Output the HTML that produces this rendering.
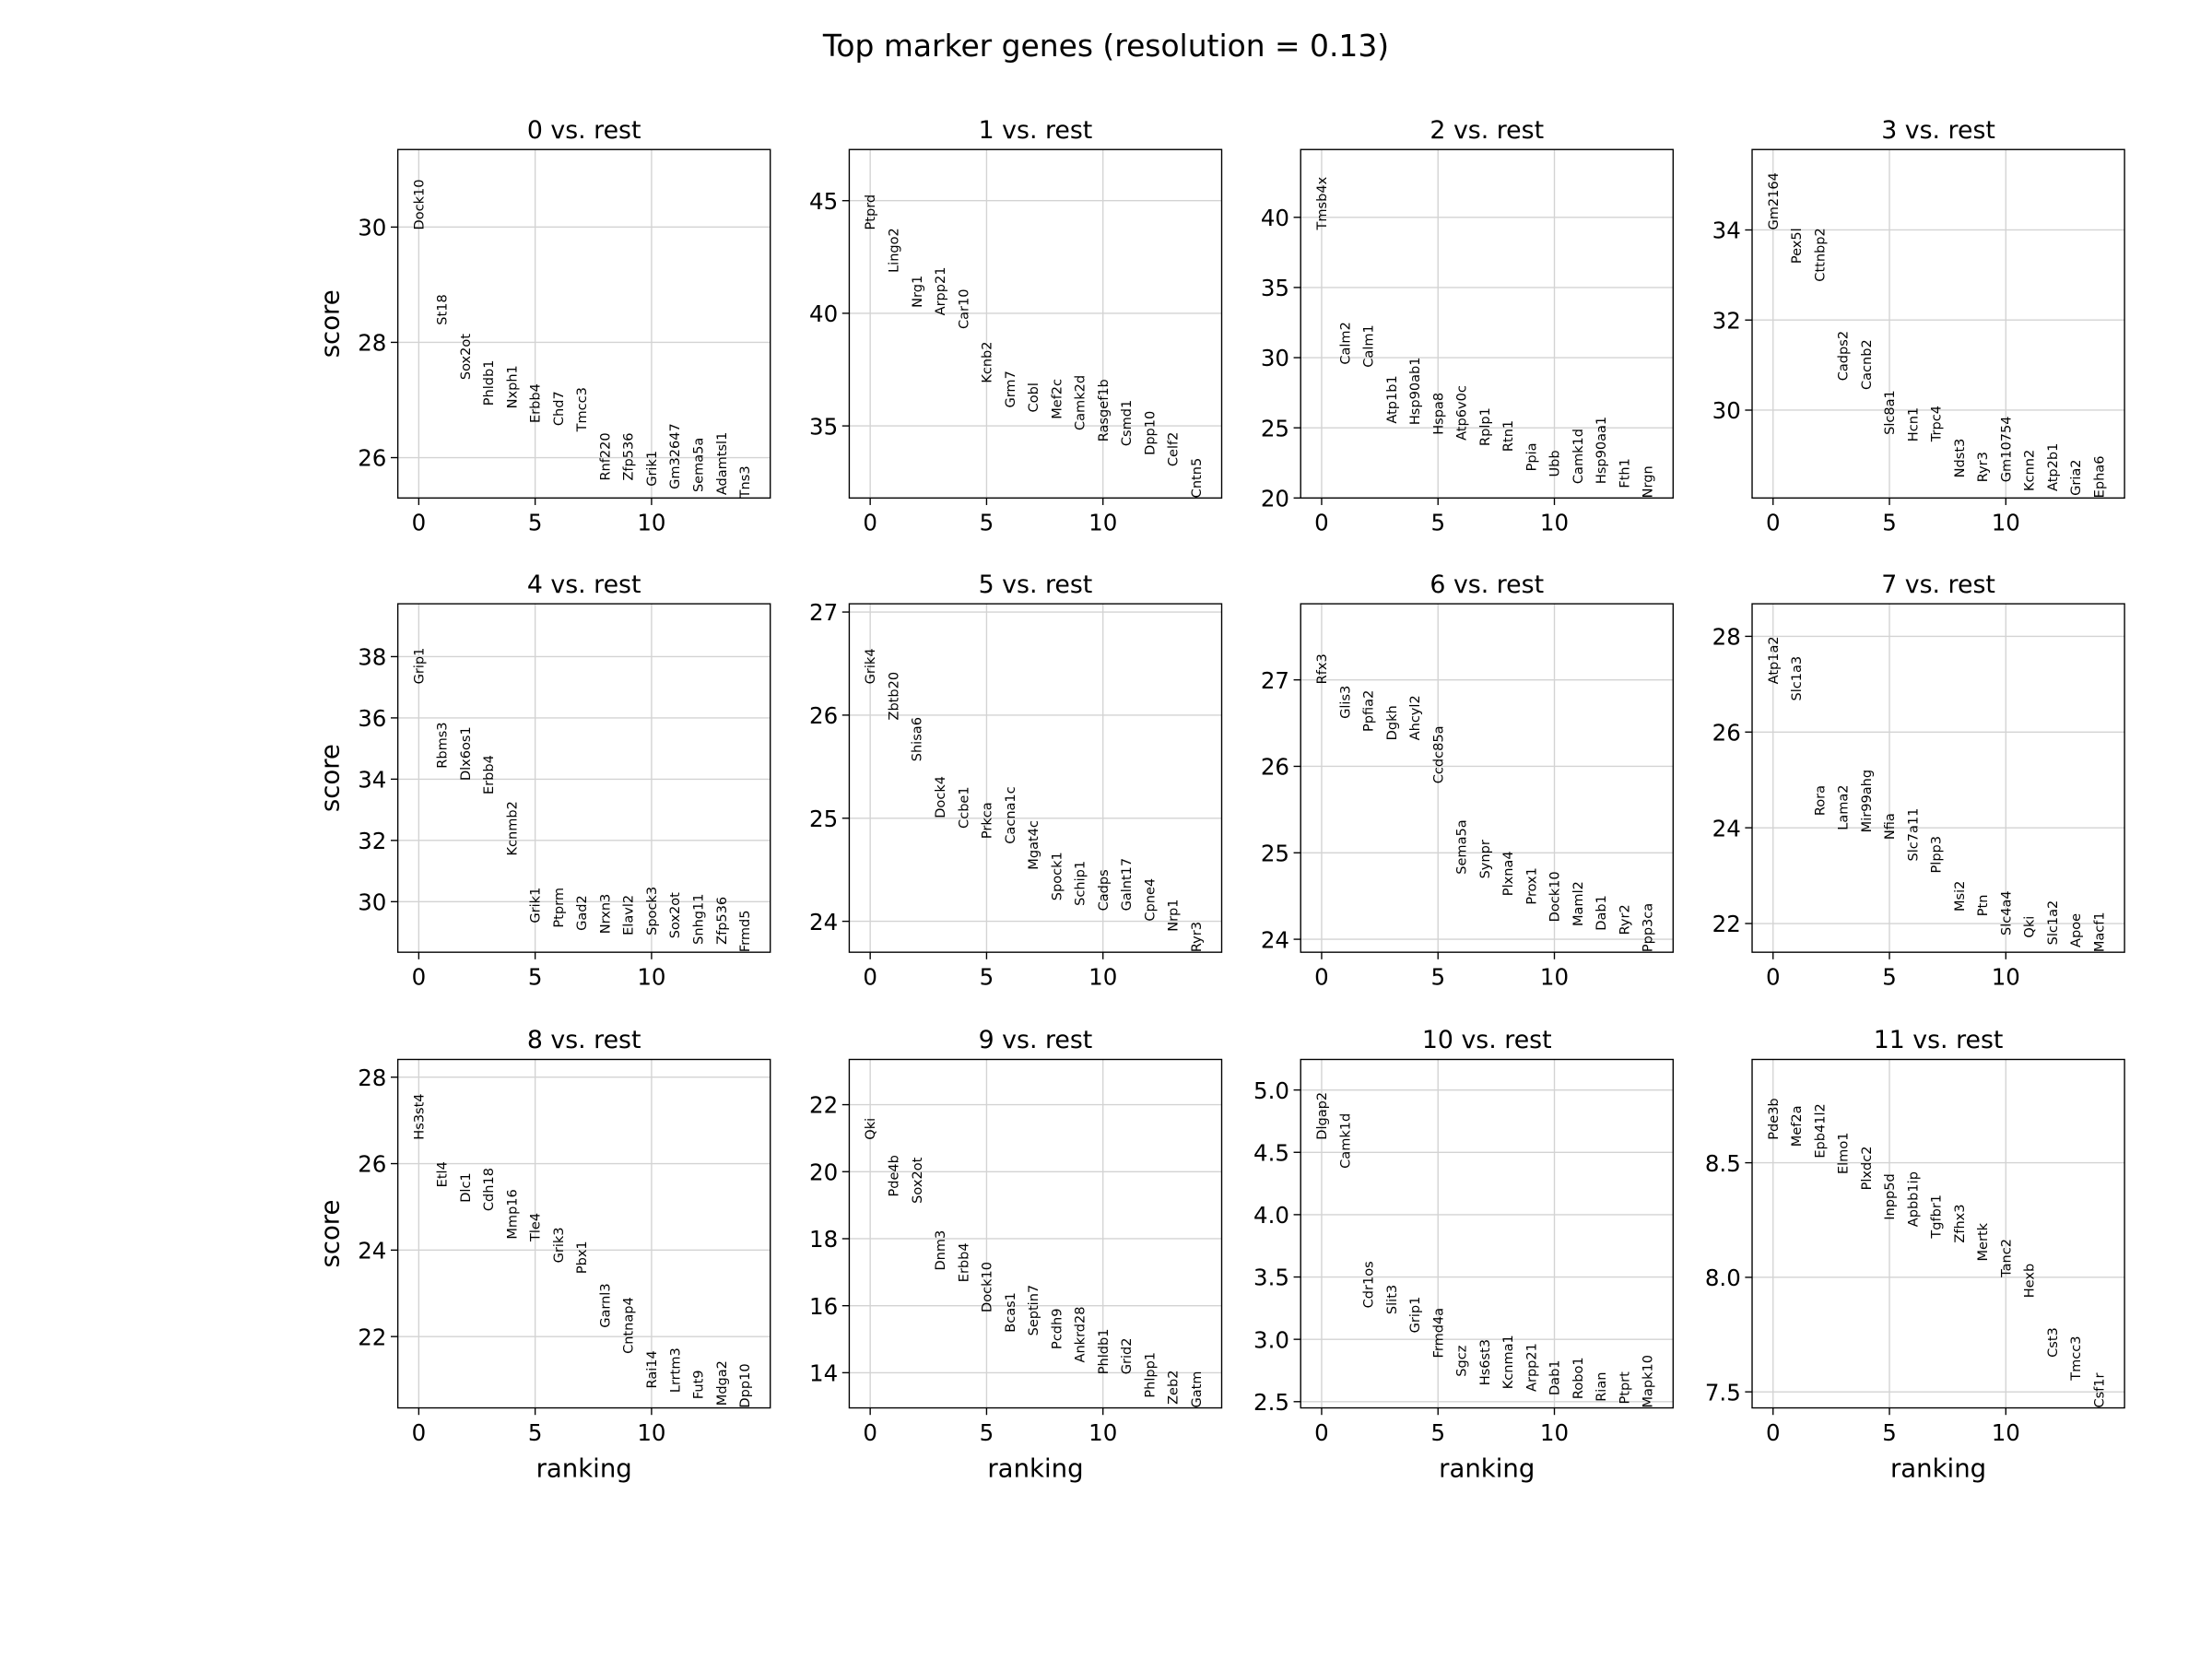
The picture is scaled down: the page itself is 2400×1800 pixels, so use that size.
<!DOCTYPE html>
<html><head><meta charset="utf-8"><style>
html,body{margin:0;padding:0;background:#fff}
svg{display:block}
text{font-family:"DejaVu Sans","Liberation Sans",sans-serif}
</style></head><body>
<svg id="fig" width="2400" height="1800" viewBox="0 0 1568 1176" xmlns="http://www.w3.org/2000/svg">
<text x="784" y="40" font-size="21.5" text-anchor="middle">Top marker genes (resolution = 0.13)</text>
</svg>
<script>
const groups = ["0","1","2","3","4","5","6","7","8","9","10","11"];
const genes0 = ["Dock10","St18","Sox2ot","Phldb1","Nxph1","Erbb4","Chd7","Tmcc3","Rnf220","Zfp536","Grik1","Gm32647","Sema5a","Adamtsl1","Tns3"];
const scores0 = [29.95,28.3,27.35,26.9,26.85,26.6,26.55,26.45,25.6,25.6,25.5,25.45,25.4,25.35,25.3];
const genes1 = ["Ptprd","Lingo2","Nrg1","Arpp21","Car10","Kcnb2","Grm7","Cobl","Mef2c","Camk2d","Rasgef1b","Csmd1","Dpp10","Celf2","Cntn5"];
const scores1 = [43.7,41.8,40.25,39.9,39.3,36.9,35.8,35.6,35.3,34.8,34.3,34.1,33.7,33.2,31.8];
const genes2 = ["Tmsb4x","Calm2","Calm1","Atp1b1","Hsp90ab1","Hspa8","Atp6v0c","Rplp1","Rtn1","Ppia","Ubb","Camk1d","Hsp90aa1","Fth1","Nrgn"];
const scores2 = [39.1,29.5,29.3,25.3,25.2,24.5,24.1,23.7,23.3,21.9,21.5,21.0,21.0,20.7,20.0];
const genes3 = ["Gm2164","Pex5l","Cttnbp2","Cadps2","Cacnb2","Slc8a1","Hcn1","Trpc4","Ndst3","Ryr3","Gm10754","Kcnn2","Atp2b1","Gria2","Epha6"];
const scores3 = [34.0,33.25,32.85,30.65,30.45,29.45,29.3,29.3,28.5,28.4,28.4,28.2,28.2,28.1,28.05];
const genes4 = ["Grip1","Rbms3","Dlx6os1","Erbb4","Kcnmb2","Grik1","Ptprm","Gad2","Nrxn3","Elavl2","Spock3","Sox2ot","Snhg11","Zfp536","Frmd5"];
const scores4 = [37.1,34.35,33.95,33.5,31.5,29.3,29.15,29.05,28.95,28.9,28.9,28.8,28.6,28.6,28.35];
const genes5 = ["Grik4","Zbtb20","Shisa6","Dock4","Ccbe1","Prkca","Cacna1c","Mgat4c","Spock1","Schip1","Cadps","Galnt17","Cpne4","Nrp1","Ryr3"];
const scores5 = [26.3,25.95,25.55,25.0,24.9,24.8,24.75,24.5,24.2,24.15,24.1,24.1,24.0,23.9,23.7];
const genes6 = ["Rfx3","Glis3","Ppfia2","Dgkh","Ahcyl2","Ccdc85a","Sema5a","Synpr","Plxna4","Prox1","Dock10","Maml2","Dab1","Ryr2","Ppp3ca"];
const scores6 = [26.95,26.55,26.4,26.3,26.3,25.8,24.75,24.7,24.5,24.4,24.2,24.15,24.1,24.05,23.85];
const genes7 = ["Atp1a2","Slc1a3","Rora","Lama2","Mir99ahg","Nfia","Slc7a11","Plpp3","Msi2","Ptn","Slc4a4","Qki","Slc1a2","Apoe","Macf1"];
const scores7 = [27.0,26.65,24.25,23.95,23.9,23.75,23.3,23.05,22.25,22.15,21.75,21.7,21.55,21.5,21.4];
const genes8 = ["Hs3st4","Etl4","Dlc1","Cdh18","Mmp16","Tle4","Grik3","Pbx1","Garnl3","Cntnap4","Rai14","Lrrtm3","Fut9","Mdga2","Dpp10"];
const scores8 = [26.55,25.45,25.1,24.9,24.25,24.2,23.7,23.45,22.2,21.6,20.8,20.7,20.55,20.4,20.35];
const genes9 = ["Qki","Pde4b","Sox2ot","Dnm3","Erbb4","Dock10","Bcas1","Septin7","Pcdh9","Ankrd28","Phldb1","Grid2","Phlpp1","Zeb2","Gatm"];
const scores9 = [20.95,19.25,19.05,17.05,16.7,15.8,15.2,15.1,14.7,14.3,13.95,13.95,13.25,13.05,12.95];
const genes10 = ["Dlgap2","Camk1d","Cdr1os","Slit3","Grip1","Frmd4a","Sgcz","Hs6st3","Kcnma1","Arpp21","Dab1","Robo1","Rian","Ptprt","Mapk10"];
const scores10 = [4.6,4.37,3.25,3.2,3.05,2.85,2.7,2.63,2.6,2.58,2.55,2.52,2.5,2.48,2.45];
const genes11 = ["Pde3b","Mef2a","Epb41l2","Elmo1","Plxdc2","Inpp5d","Apbb1ip","Tgfbr1","Zfhx3","Mertk","Tanc2","Hexb","Cst3","Tmcc3","Csf1r"];
const scores11 = [8.6,8.57,8.52,8.45,8.38,8.25,8.22,8.17,8.15,8.07,8.0,7.91,7.65,7.55,7.43];
const yTicks = [[26,28,30],[35,40,45],[20,25,30,35,40],[30,32,34],[30,32,34,36,38],[24,25,26,27],[24,25,26,27],[22,24,26,28],[22,24,26,28],[14,16,18,20,22],[2.5,3.0,3.5,4.0,4.5,5.0],[7.5,8.0,8.5]];
const yTickLabels = [["26","28","30"],["35","40","45"],["20","25","30","35","40"],["30","32","34"],["30","32","34","36","38"],["24","25","26","27"],["24","25","26","27"],["22","24","26","28"],["22","24","26","28"],["14","16","18","20","22"],["2.5","3.0","3.5","4.0","4.5","5.0"],["7.5","8.0","8.5"]];
const xTicks = [0,5,10];
const allGenes=[genes0,genes1,genes2,genes3,genes4,genes5,genes6,genes7,genes8,genes9,genes10,genes11];
const allScores=[scores0,scores1,scores2,scores3,scores4,scores5,scores6,scores7,scores8,scores9,scores10,scores11];

const NS="http://www.w3.org/2000/svg";
const svg=document.getElementById('fig');
function mk(tag,attrs,parent){const e=document.createElementNS(NS,tag);for(const k in attrs)e.setAttribute(k,attrs[k]);(parent||svg).appendChild(e);return e;}
const colX=[282,602,922,1242], rowY=[106,428,751], W=264, H=247;
for(let p=0;p<12;p++){
  const r=Math.floor(p/4), c=p%4, L=colX[c], T=rowY[r];
  const sc=allScores[p], gn=allGenes[p];
  const mn=Math.min(...sc), mx=Math.max(...sc);
  const y0=mn, y1=mx+0.3*(mx-mn);
  const xs=v=>L+(v+0.9)/16*W;
  const ys=v=>T+H-(v-y0)/(y1-y0)*H;
  const g=mk('g',{});
  
  
  const cp=mk('clipPath',{id:'cp'+p},g);
  mk('rect',{x:L,y:T,width:W,height:H},cp);
  xTicks.forEach(t=>{
    const gl=mk('line',{x1:xs(t),x2:xs(t),y1:T,y2:T+H,stroke:'#d3d3d3','stroke-width':0.9},g);
    
    
    const tk=mk('line',{x1:xs(t),x2:xs(t),y1:T+H,y2:T+H+5,stroke:'#000','stroke-width':0.9},g);
    
    
    const tl=mk('text',{x:xs(t),y:T+H+23,'font-size':16,'text-anchor':'middle'},g);
    tl.textContent=String(t);
    
    
  });
  yTicks[p].forEach((t,i)=>{
    const yy=ys(t); if(yy<T-0.5||yy>T+H+0.5) return;
    const gl=mk('line',{x1:L,x2:L+W,y1:yy,y2:yy,stroke:'#d3d3d3','stroke-width':0.9},g);
    
    
    const tk=mk('line',{x1:L-5,x2:L,y1:yy,y2:yy,stroke:'#000','stroke-width':0.9},g);
    
    
    const tl=mk('text',{x:L-8,y:yy+6,'font-size':16,'text-anchor':'end'},g);
    tl.textContent=yTickLabels[p][i];
    
    
  });
  const gg=mk('g',{'clip-path':'url(#cp'+p+')'},g);
  gn.forEach((name,i)=>{
    const x=xs(i), y=ys(sc[i]);
    const t=mk('text',{x:x,y:y,'font-size':9.5,transform:'rotate(-90 '+x+' '+y+')',dy:'0.35em'},gg);
    t.textContent=name;
    
    
  });
  const fr=mk('rect',{x:L,y:T,width:W,height:H,fill:'none',stroke:'#000','stroke-width':0.9},g);
  
  
  const ti=mk('text',{x:L+W/2,y:T-8,'font-size':17.5,'text-anchor':'middle'},g);
  ti.textContent=groups[p]+' vs. rest';
  
  
  if(c===0){
    const yl=mk('text',{x:240,y:T+H/2,'font-size':18,'text-anchor':'middle',transform:'rotate(-90 240 '+(T+H/2)+')'},g);
    yl.textContent='score';
    
    
  }
  if(r===2){
    const xl=mk('text',{x:L+W/2,y:T+H+49,'font-size':18,'text-anchor':'middle'},g);
    xl.textContent='ranking';
    
    
  }
}
</script>
</body></html>
